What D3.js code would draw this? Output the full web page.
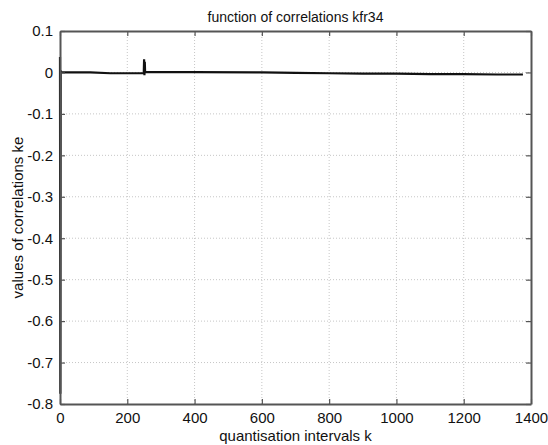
<!DOCTYPE html>
<html>
<head>
<meta charset="utf-8">
<script src="https://cdn.jsdelivr.net/npm/d3@7"></script>
<style>
  html, body { margin: 0; padding: 0; background: #fff; }
  svg { display: block; font-family: "Liberation Sans", Arial, sans-serif; }
</style>
</head>
<body>
<svg id="chart" width="548" height="445"></svg>
<script>
// Correlation function kfr34 sampled at selected quantisation intervals
const kValues  = [0, 1, 2, 4, 90, 150, 249, 250, 251, 252, 253, 254, 280, 400, 600, 700, 800, 900, 1000, 1100, 1200, 1300, 1376];
const keValues = [0.037, -0.775, 0.004, 0.0, 0.0, -0.002, -0.002, 0.032, -0.007, 0.026, 0.0, 0.001, 0.001, 0.001, 0.0, -0.001, -0.002, -0.003, -0.003, -0.004, -0.004, -0.005, -0.005];

const xTicks = [0, 200, 400, 600, 800, 1000, 1200, 1400];
const yTicks = [0.1, 0, -0.1, -0.2, -0.3, -0.4, -0.5, -0.6, -0.7, -0.8];

const titleText = "function of correlations kfr34";
const xLabel = "quantisation intervals k";
const yLabel = "values of correlations ke";

const margin = { left: 60, right: 17, top: 31, bottom: 41 };
const W = 548, H = 445;
const svg = d3.select("#chart");

const x = d3.scaleLinear().domain([0, 1400]).range([margin.left, W - margin.right]);
const y = d3.scaleLinear().domain([-0.8, 0.1]).range([H - margin.bottom, margin.top]);

const fmtY = d => d === 0 ? "0" : d.toFixed(1);

// dotted grid
const grid = svg.append("g");
grid.selectAll(".gx").data(xTicks.slice(1, -1)).join("line")
  .attr("x1", d => x(d)).attr("x2", d => x(d))
  .attr("y1", y(0.1)).attr("y2", y(-0.8))
  .attr("stroke", "#c6c6c6").attr("stroke-width", 1).attr("stroke-dasharray", "1,2");
grid.selectAll(".gy").data(yTicks.slice(1, -1)).join("line")
  .attr("x1", x(0)).attr("x2", x(1400))
  .attr("y1", d => y(d)).attr("y2", d => y(d))
  .attr("stroke", "#c6c6c6").attr("stroke-width", 1).attr("stroke-dasharray", "1,2");

// data line
const pts = kValues.map((k, i) => [k, keValues[i]]);
svg.append("path")
  .datum(pts)
  .attr("fill", "none")
  .attr("stroke", "#111")
  .attr("stroke-width", 2.2)
  .attr("stroke-linejoin", "miter")
  .attr("stroke-miterlimit", 1)
  .attr("d", d3.line().x(d => x(d[0])).y(d => y(d[1])));

// axes with inward ticks on all sides
const axisColor = "#555";
const tickLen = 5;
const axBottom = svg.append("g").attr("transform", `translate(0,${y(-0.8)})`)
  .call(d3.axisBottom(x).tickValues(xTicks).tickSizeInner(-tickLen).tickSizeOuter(0).tickPadding(8).tickFormat(d3.format("d")));
const axTop = svg.append("g").attr("transform", `translate(0,${y(0.1)})`)
  .call(d3.axisTop(x).tickValues(xTicks).tickSizeInner(-tickLen).tickSizeOuter(0).tickFormat(""));
const axLeft = svg.append("g").attr("transform", `translate(${x(0)},0)`)
  .call(d3.axisLeft(y).tickValues(yTicks).tickSizeInner(-tickLen).tickSizeOuter(0).tickPadding(7).tickFormat(fmtY));
const axRight = svg.append("g").attr("transform", `translate(${x(1400)},0)`)
  .call(d3.axisRight(y).tickValues(yTicks).tickSizeInner(-tickLen).tickSizeOuter(0).tickFormat(""));

[axBottom, axTop, axLeft, axRight].forEach(g => {
  g.select(".domain").attr("stroke", axisColor).attr("stroke-width", 2);
  g.selectAll(".tick line").attr("stroke", axisColor).attr("stroke-width", 1.2);
  g.selectAll("text").attr("fill", "#111").style("font-size", "15px")
    .style("font-family", "'Liberation Sans', Arial, sans-serif");
});

// titles
svg.append("text")
  .attr("x", (x(0) + x(1400)) / 2).attr("y", 22)
  .attr("text-anchor", "middle")
  .style("font-size", "14px").attr("fill", "#111")
  .text(titleText);

svg.append("text")
  .attr("x", (x(0) + x(1400)) / 2).attr("y", 441)
  .attr("text-anchor", "middle")
  .style("font-size", "15px").attr("fill", "#111")
  .text(xLabel);

svg.append("text")
  .attr("transform", `translate(23,${(y(0.1) + y(-0.8)) / 2}) rotate(-90)`)
  .attr("text-anchor", "middle")
  .style("font-size", "15px").attr("fill", "#111")
  .text(yLabel);
</script>
</body>
</html>
